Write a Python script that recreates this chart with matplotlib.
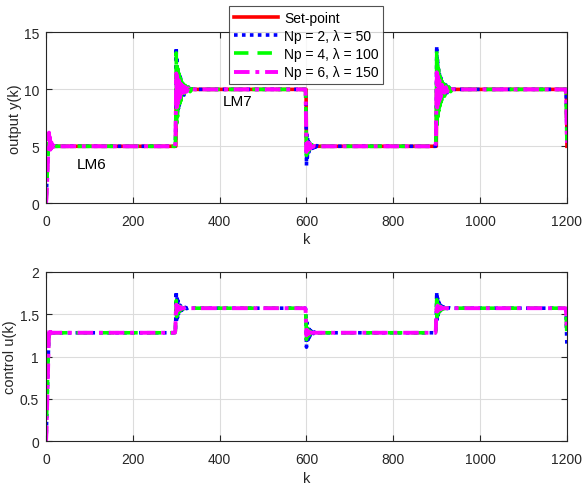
import matplotlib
matplotlib.use("Agg")
import matplotlib.pyplot as plt

plt.rcParams['font.family'] = ['Liberation Sans', 'DejaVu Sans']

# ---------------- data ----------------
labels = ['Set-point', 'Np = 2, \u03bb = 50', 'Np = 4, \u03bb = 100', 'Np = 6, \u03bb = 150']

sp_k = [0, 299, 300, 599, 600, 899, 900, 1199, 1200]
sp_y = [5, 5, 10, 10, 5, 5, 10, 10, 5]

ev_k = [0, 297, 597, 897, 1197]
offs = [0, 1, 2, 3, 4, 5, 6, 7, 8, 9, 10, 11, 12, 13, 14, 15,
        17, 19, 21, 24, 27, 31, 35, 40, 46]

# output y(k) transients (one list per set-point change)
y_np2 = [
    [0, 1.0, 2.0, 3.0, 4.0, 4.6, 5.3, 4.8, 5.15, 4.9, 5.05, 4.97, 5.02, 5],
    [5, 5.2, 7.0, 13.7, 7.4, 12.6, 7.9, 12.0, 8.3, 11.6, 8.6, 11.3, 8.9, 11.0, 9.1, 10.8,
     9.3, 10.6, 9.5, 10.4, 9.7, 10.2, 9.85, 10.05, 10],
    [10, 9.8, 8.0, 3.3, 6.1, 4.0, 5.8, 4.3, 5.6, 4.5, 5.45, 4.6, 5.35, 4.7, 5.25, 4.8,
     5.2, 4.85, 5.12, 4.92, 5.06, 4.97, 5.02, 5, 5],
    [5, 5.2, 7.0, 13.8, 7.3, 12.7, 7.9, 12.0, 8.3, 11.6, 8.6, 11.3, 8.9, 11.0, 9.1, 10.8,
     9.3, 10.6, 9.5, 10.4, 9.7, 10.2, 9.85, 10.05, 10],
    [10, 9.6, 8.3, 5.5],
]
y_np4 = [
    [0, 0.8, 1.8, 2.8, 3.8, 4.6, 5.4, 4.7, 5.3, 4.8, 5.15, 4.9, 5.05, 5],
    [5, 5.2, 7.5, 13.2, 7.0, 12.4, 7.6, 11.8, 8.1, 11.4, 8.5, 11.1, 8.8, 10.9, 9.0, 10.7,
     9.2, 10.5, 9.4, 10.35, 9.6, 10.2, 9.8, 10.05, 10],
    [10, 9.8, 7.5, 4.2, 5.7, 4.4, 5.5, 4.55, 5.4, 4.65, 5.3, 4.75, 5.2, 4.85, 5.15, 4.9,
     5.1, 4.93, 5.06, 4.96, 5.03, 5],
    [5, 5.2, 7.5, 13.4, 6.9, 12.5, 7.6, 11.8, 8.1, 11.4, 8.5, 11.1, 8.8, 10.9, 9.0, 10.7,
     9.2, 10.5, 9.4, 10.35, 9.6, 10.2, 9.8, 10.05, 10],
    [10, 9.5, 7.5, 4.9],
]
y_np6 = [
    [0, 0.4, 1.2, 2.2, 3.2, 4.2, 5.0, 6.2, 4.6, 5.8, 4.7, 5.5, 4.8, 5.3, 4.9, 5.15,
     4.95, 5.05, 5],
    [5, 5.3, 8.0, 11.4, 8.4, 11.2, 8.7, 11.0, 8.9, 10.8, 9.1, 10.6, 9.3, 10.5, 9.4, 10.4,
     9.55, 10.3, 9.7, 10.2, 9.8, 10.1, 9.9, 10.03, 10],
    [10, 9.7, 7.0, 4.5, 5.45, 4.6, 5.35, 4.7, 5.3, 4.75, 5.2, 4.8, 5.15, 4.85, 5.1, 4.9,
     5.06, 4.95, 5.03, 5],
    [5, 5.3, 8.0, 11.5, 8.4, 11.2, 8.7, 11.0, 8.9, 10.8, 9.1, 10.6, 9.3, 10.5, 9.4, 10.4,
     9.55, 10.3, 9.7, 10.2, 9.8, 10.1, 9.9, 10.03, 10],
    [10, 9.5, 7.5, 5.3],
]

# control u(k) transients
u_np2 = [
    [0, 0.15, 0.35, 0.55, 0.75, 0.95, 1.15, 1.3, 1.26, 1.29, 1.275, 1.28],
    [1.28, 1.29, 1.45, 1.77, 1.42, 1.70, 1.46, 1.66, 1.49, 1.63, 1.51, 1.61, 1.53, 1.60,
     1.54, 1.59, 1.55, 1.585, 1.56, 1.58, 1.565, 1.575, 1.57],
    [1.57, 1.56, 1.45, 1.11, 1.4, 1.17, 1.36, 1.2, 1.34, 1.22, 1.32, 1.24, 1.31, 1.25,
     1.3, 1.26, 1.295, 1.27, 1.29, 1.275, 1.285, 1.28],
    [1.28, 1.29, 1.45, 1.76, 1.42, 1.69, 1.46, 1.66, 1.49, 1.63, 1.51, 1.61, 1.53, 1.60,
     1.54, 1.59, 1.55, 1.585, 1.56, 1.58, 1.565, 1.575, 1.57],
    [1.57, 1.5, 1.3, 1.11],
]
u_np4 = [
    [0, 0.2, 0.4, 0.6, 0.8, 1.0, 1.2, 1.3, 1.27, 1.285, 1.28],
    [1.28, 1.3, 1.5, 1.66, 1.47, 1.63, 1.5, 1.61, 1.52, 1.6, 1.53, 1.59, 1.54, 1.585,
     1.55, 1.58, 1.56, 1.575, 1.565, 1.57],
    [1.57, 1.55, 1.4, 1.2, 1.34, 1.23, 1.32, 1.24, 1.31, 1.25, 1.3, 1.26, 1.295, 1.27,
     1.29, 1.275, 1.28],
    [1.28, 1.3, 1.5, 1.67, 1.47, 1.63, 1.5, 1.61, 1.52, 1.6, 1.53, 1.59, 1.54, 1.585,
     1.55, 1.58, 1.56, 1.575, 1.565, 1.57],
    [1.57, 1.5, 1.35, 1.25],
]
u_np6 = [
    [0, 0.1, 0.3, 0.5, 0.7, 0.9, 1.1, 1.33, 1.26, 1.31, 1.27, 1.29, 1.28],
    [1.28, 1.32, 1.52, 1.61, 1.53, 1.6, 1.54, 1.595, 1.55, 1.59, 1.555, 1.585, 1.56,
     1.58, 1.565, 1.575, 1.57],
    [1.57, 1.55, 1.38, 1.25, 1.31, 1.26, 1.3, 1.265, 1.295, 1.27, 1.29, 1.275, 1.285, 1.28],
    [1.28, 1.32, 1.52, 1.61, 1.53, 1.6, 1.54, 1.595, 1.55, 1.59, 1.555, 1.585, 1.56,
     1.58, 1.565, 1.575, 1.57],
    [1.57, 1.52, 1.4, 1.3],
]

y_ticks = [0, 5, 10, 15]
u_ticks = [0, 0.5, 1, 1.5, 2]
u_ticklabels = ['0', '0.5', '1', '1.5', '2']
k_ticks = [0, 200, 400, 600, 800, 1000, 1200]


def build(events):
    ks, vs = [], []
    for start, vals in zip(ev_k, events):
        for o, v in zip(offs, vals):
            ks.append(start + o)
            vs.append(v)
    return ks, vs


# ---------------- figure ----------------
fig = plt.figure(figsize=(5.86, 4.85), dpi=100)
ax1 = fig.add_axes([0.0785, 0.579, 0.889, 0.352])
ax2 = fig.add_axes([0.0785, 0.088, 0.889, 0.3497])

styles = [
    dict(color='#ff0000', ls='-', lw=2.6),
    dict(color='#0000ff', ls=(0, (1, 1.2)), lw=2.6),
    dict(color='#00ff00', ls=(0, (4, 2.5)), lw=2.6),
    dict(color='#ff00ff', ls=(0, (4, 1.5, 1, 1.5)), lw=2.8),
]

handles = []
h, = ax1.plot(sp_k, sp_y, label=labels[0], **styles[0])
handles.append(h)
for i, ser in enumerate([y_np2, y_np4, y_np6]):
    ks, vs = build(ser)
    h, = ax1.plot(ks, vs, label=labels[i + 1], **styles[i + 1])
    handles.append(h)

for i, ser in enumerate([u_np2, u_np4, u_np6]):
    ks, vs = build(ser)
    ax2.plot(ks, vs, **styles[i + 1])

for ax in (ax1, ax2):
    ax.set_xlim(0, 1200)
    ax.set_xticks(k_ticks)
    ax.grid(True, color='#dcdcdc', lw=0.8)
    ax.set_axisbelow(True)
    ax.tick_params(direction='in', top=True, right=True, labelsize=10,
                   colors='#262626', length=4, width=0.8)
    ax.tick_params(axis='x', pad=8)
    ax.tick_params(axis='y', pad=5)
    for s in ax.spines.values():
        s.set_color('#262626')
        s.set_linewidth(0.8)
    ax.set_xlabel('k', fontsize=10.5, color='#262626', labelpad=3)

ax1.set_ylim(0, 15)
ax1.set_yticks(y_ticks)
ax1.set_ylabel('output y(k)', fontsize=10.5, color='#262626')
ax1.yaxis.set_label_coords(-0.046, 0.5)
ax2.set_ylim(0, 2)
ax2.set_yticks(u_ticks)
ax2.set_yticklabels(u_ticklabels)
ax2.set_ylabel('control u(k)', fontsize=10.5, color='#262626')
ax2.yaxis.set_label_coords(-0.056, 0.5)

ax1.text(106, 3.4, 'LM6', fontsize=11, ha='center', va='center', color='#000000')
ax1.text(442, 9.0, 'LM7', fontsize=11, ha='center', va='center', color='#000000')

leg = fig.legend(handles=handles, loc='upper left',
                 bbox_to_anchor=(229 / 586, 1 - 7 / 485),
                 fontsize=10, frameon=True, fancybox=False,
                 handlelength=3.2, handletextpad=0.4, borderpad=0.35,
                 labelspacing=0.3, borderaxespad=0)
leg.get_frame().set_edgecolor('#262626')
leg.get_frame().set_linewidth(0.8)

fig.savefig('out.png', dpi=100)
